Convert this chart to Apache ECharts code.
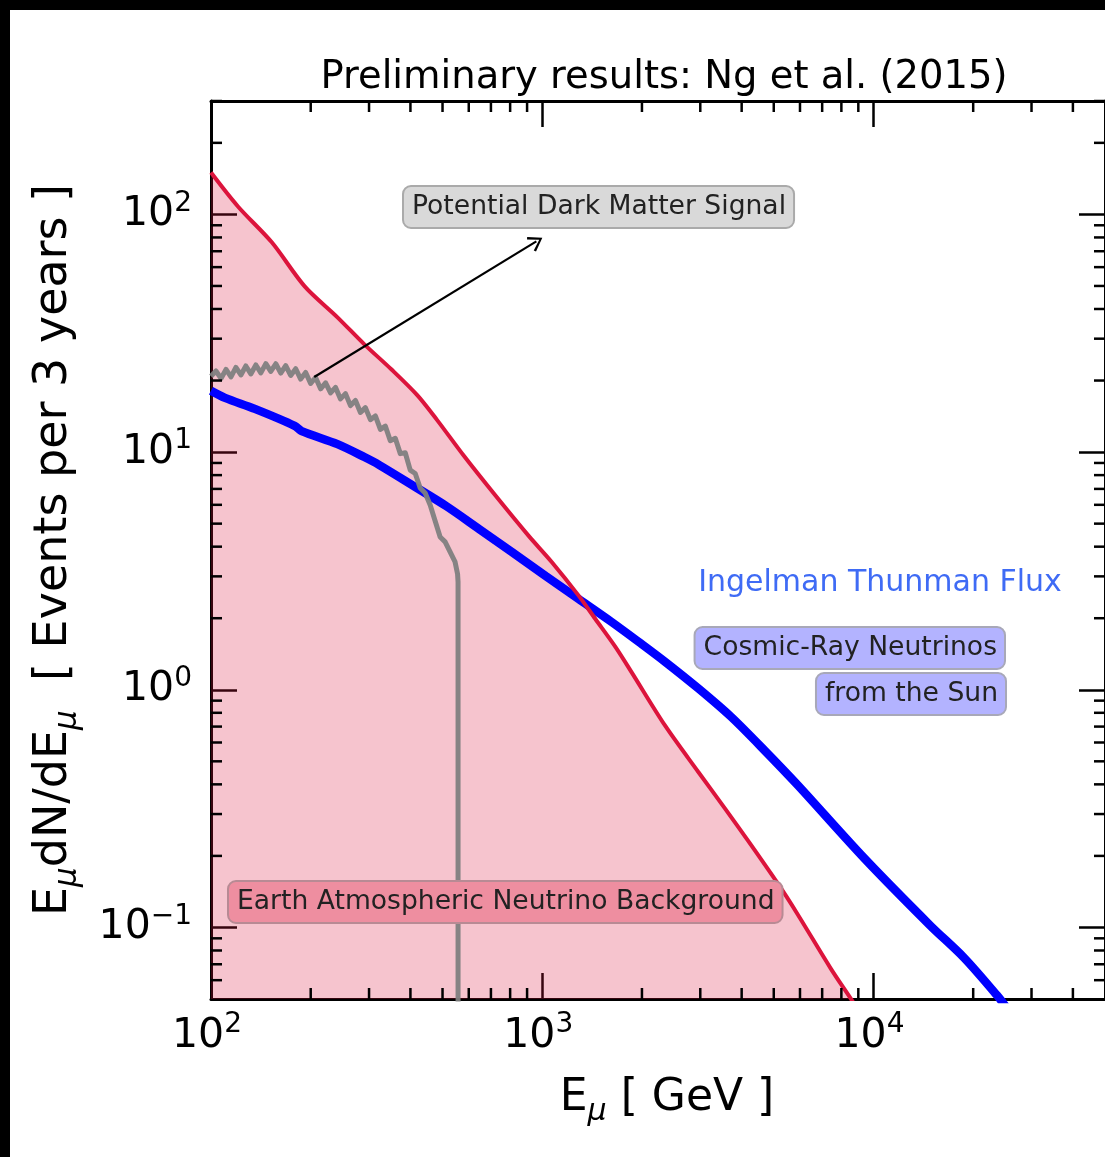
<!DOCTYPE html>
<html><head><meta charset="utf-8">
<script src="https://cdn.jsdelivr.net/npm/echarts@6/dist/echarts.min.js"></script>
<style>
html,body{margin:0;padding:0;background:#000;width:1105px;height:1157px;overflow:hidden}
#chart{position:absolute;left:10px;top:10px;width:1095px;height:1147px;background:#fff}
</style></head><body><div id="chart"></div>
<script>
// ---- data (E_mu in GeV, events per 3 years) ----
const energyBackground = [100, 120.6, 152.6, 191.8, 240.9, 290.4, 350.2, 419.4, 481.7, 580.7, 724.5, 910, 1068, 1288, 1445, 1663, 1858, 2350, 2956, 3564, 4180, 5143, 5907, 7425, 8530, 9400];
const eventsBackground = [150, 108, 76.3, 49.8, 36.9, 28.4, 22.3, 17.36, 13.63, 9.62, 6.53, 4.44, 3.45, 2.49, 1.99, 1.516, 1.19, 0.706, 0.452, 0.3162, 0.232, 0.1531, 0.1134, 0.0673, 0.0503, 0.041];

const energyThunman = [100, 110.2, 135.6, 178.9, 187.8, 240.9, 290.4, 322.3, 405, 512.6, 644.3, 809.7, 1024, 1288, 1618, 1991, 2350, 2956, 3715, 4700, 5907, 9398, 14830, 18780, 23600, 25500];
const eventsThunman = [18.1, 16.9, 15.2, 12.9, 12.25, 10.8, 9.53, 8.82, 7.265, 5.93, 4.75, 3.80, 3.01, 2.41, 1.931, 1.561, 1.311, 1.0146, 0.770, 0.5543, 0.397, 0.195, 0.102, 0.0745, 0.0518, 0.045];

const energyDM = [100, 103.5, 107.2, 111.0, 114.9, 118.9, 123.1, 127.4, 131.9, 136.6, 141.4, 146.4, 151.5, 156.9, 162.4, 168.1, 174.0, 180.2, 186.5, 193.1, 199.9, 206.9, 214.2, 221.8, 229.6, 237.7, 246.0, 254.7, 263.7, 273.0, 282.6, 292.5, 302.8, 313.5, 324.6, 336.0, 347.8, 360.1, 372.8, 385.9, 399.5, 413.6, 428.1, 443.2, 458.9, 475.0, 491.8, 509.1, 527.0, 545.6, 555.1, 557.0, 557.0];
const eventsDM = [20.86, 21.94, 20.41, 22.26, 20.71, 22.70, 21.11, 23.03, 21.32, 23.26, 21.53, 23.55, 21.84, 23.53, 21.49, 23.12, 21.01, 22.42, 20.29, 21.63, 19.44, 20.60, 18.46, 19.57, 17.74, 18.71, 16.74, 17.62, 15.69, 16.49, 14.67, 15.38, 13.69, 14.20, 12.46, 12.86, 11.16, 11.43, 9.85, 9.93, 8.40, 8.13, 7.06, 6.73, 5.99, 5.13, 4.39, 4.19, 3.80, 3.45, 3.07, 2.84, 0.04];

const arrowTail = [205, 20.7];
const arrowHead = [960, 77];

const xRange = [100, 50000];
const yRange = [0.05, 300];
const xMinorTicks = [200,300,400,500,600,700,800,900,2000,3000,4000,5000,6000,7000,8000,9000,20000,30000,40000];
const yMinorTicks = [0.06,0.07,0.08,0.09,0.2,0.3,0.4,0.5,0.6,0.7,0.8,0.9,2,3,4,5,6,7,8,9,20,30,40,50,60,70,80,90,200,300];

const titleText = 'Preliminary results: Ng et al. (2015)';
const dmLabel = 'Potential Dark Matter Signal';
const fluxLabel = 'Ingelman Thunman Flux';
const cosmicLabel1 = 'Cosmic-Ray Neutrinos';
const cosmicLabel2 = 'from the Sun';
const bgLabel = 'Earth Atmospheric Neutrino Background';

// ---- chart ----
const FONT = 'DejaVu Sans';
const pair = (xs, ys) => xs.map((x, i) => [x, ys[i]]);
function powLabel(v) {
  const e = Math.round(Math.log10(v));
  if (Math.abs(Math.pow(10, e) - v) / v > 1e-6) return '';
  return '{b|10}{s|' + (e < 0 ? '\u2212' + (-e) : e) + '}';
}
const labelRich = {
  b: { fontFamily: FONT, fontSize: 41, lineHeight: 50, color: '#000' },
  s: { fontFamily: FONT, fontSize: 28, lineHeight: 18, verticalAlign: 'top', color: '#000' }
};
const xNameRich = {
  n: { fontFamily: FONT, fontSize: 44, lineHeight: 56, color: '#000' },
  u: { fontFamily: FONT, fontSize: 30, fontStyle: 'italic', lineHeight: 26, verticalAlign: 'bottom', color: '#000' }
};
const yNameRich = {
  n: { fontFamily: FONT, fontSize: 46, lineHeight: 58, color: '#000' },
  u: { fontFamily: FONT, fontSize: 31, fontStyle: 'italic', lineHeight: 27, verticalAlign: 'bottom', color: '#000' }
};
const axisLine = { show: true, onZero: false, lineStyle: { color: '#000', width: 3 } };
const majorTick = { show: true, inside: true, length: 26, lineStyle: { color: '#000', width: 2.5 } };

const chart = echarts.init(document.getElementById('chart'), null, { renderer: 'canvas' });

function minorX(params, api) {
  const cs = params.coordSys;
  const x = api.coord([api.value(0), 1])[0];
  const st = { stroke: '#000', lineWidth: 2.5 };
  return { type: 'group', children: [
    { type: 'line', shape: { x1: x, y1: cs.y + cs.height, x2: x, y2: cs.y + cs.height - 11 }, style: st },
    { type: 'line', shape: { x1: x, y1: cs.y, x2: x, y2: cs.y + 11 }, style: st }
  ]};
}
function minorY(params, api) {
  const cs = params.coordSys;
  const y = api.coord([1000, api.value(1)])[1];
  const st = { stroke: '#000', lineWidth: 2.5 };
  return { type: 'group', children: [
    { type: 'line', shape: { x1: cs.x, y1: y, x2: cs.x + 11, y2: y }, style: st },
    { type: 'line', shape: { x1: cs.x + cs.width, y1: y, x2: cs.x + cs.width - 11, y2: y }, style: st }
  ]};
}

const boxText = (text, x, y, align, bg, border) => ({
  type: 'text', x: x, y: y, z: 100,
  style: {
    text: text, fontFamily: FONT, fontSize: 26.6, lineHeight: 30, fill: '#222',
    align: align, verticalAlign: 'top',
    backgroundColor: bg, borderColor: border, borderWidth: 2, borderRadius: 7,
    padding: [5, 7, 5, 8]
  }
});

const option = {
  animation: false,
  backgroundColor: '#fff',
  grid: { left: 201, top: 91, bottom: 158, right: -3, containLabel: false },
  xAxis: [
    { type: 'log', min: xRange[0], max: xRange[1], position: 'bottom',
      axisLine: axisLine, axisTick: majorTick, splitLine: { show: false },
      axisLabel: { show: true, margin: 12, formatter: powLabel, rich: labelRich, showMaxLabel: false, padding: [0, 8, 0, 0] },
      name: '{n|E}{u|\u03bc}{n| [ GeV ]}', nameLocation: 'middle', nameGap: 72,
      nameTextStyle: { rich: xNameRich, padding: [0, 0, 0, 18] } },
    { type: 'log', min: xRange[0], max: xRange[1], position: 'top',
      axisLine: axisLine, axisTick: majorTick, splitLine: { show: false }, axisLabel: { show: false } }
  ],
  yAxis: [
    { type: 'log', min: yRange[0], max: yRange[1], position: 'left',
      axisLine: axisLine, axisTick: majorTick, splitLine: { show: false },
      axisLabel: { show: true, margin: 19, formatter: powLabel, rich: labelRich, showMinLabel: false, showMaxLabel: false },
      name: '{n|E}{u|\u03bc}{n|dN/dE}{u|\u03bc}{n|  [ Events per 3 years ]}', nameLocation: 'middle', nameGap: 128,
      nameTextStyle: { rich: yNameRich } },
    { type: 'log', min: yRange[0], max: yRange[1], position: 'right',
      axisLine: axisLine, axisTick: majorTick, splitLine: { show: false }, axisLabel: { show: false } }
  ],
  series: [
    { name: 'bgFill', type: 'line', data: pair(energyBackground, eventsBackground), showSymbol: false, smooth: 0.3,
      lineStyle: { width: 0, opacity: 0 }, areaStyle: { color: 'rgba(220,20,60,0.25)', opacity: 1, origin: 'start' },
      z: 1, silent: true, clip: true },
    { name: 'Ingelman Thunman', type: 'line', data: pair(energyThunman, eventsThunman), showSymbol: false, smooth: 0.3,
      lineStyle: { color: '#0000ff', width: 8.5 }, z: 2, silent: true, clip: true },
    { name: 'Background', type: 'line', data: pair(energyBackground, eventsBackground), showSymbol: false, smooth: 0.3,
      lineStyle: { color: '#dc143c', width: 4 }, z: 3, silent: true, clip: true },
    { name: 'Dark Matter', type: 'line', data: pair(energyDM, eventsDM), showSymbol: false,
      lineStyle: { color: 'rgba(128,128,128,0.95)', width: 5, join: 'round' }, z: 4, silent: true, clip: true,
      markLine: { silent: true, animation: false,
        symbol: ['none', 'path://M5,0 L10,9 L8.8,10 L5,2.6 L1.2,10 L0,9 Z'], symbolSize: [17, 14],
        label: { show: false }, lineStyle: { color: '#000', width: 2.2, type: 'solid' },
        emphasis: { disabled: true },
        data: [[{ coord: arrowTail }, { coord: arrowHead }]] } },
    { name: 'minorX', type: 'custom', renderItem: minorX, data: xMinorTicks.map(v => [v, 1]), z: 10, silent: true },
    { name: 'minorY', type: 'custom', renderItem: minorY, data: yMinorTicks.map(v => [1000, v]), z: 10, silent: true }
  ],
  graphic: [
    { type: 'text', x: 654, y: 68, z: 100,
      style: { text: titleText, fontFamily: FONT, fontSize: 38.5, fill: '#000', align: 'center', verticalAlign: 'middle' } },
    boxText(dmLabel, 394, 177, 'left', '#d9d9d9', '#aaaaaa'),
    { type: 'text', x: 870, y: 573, z: 100,
      style: { text: fluxLabel, fontFamily: FONT, fontSize: 30, fill: '#3f6bf5', align: 'center', verticalAlign: 'middle' } },
    boxText(cosmicLabel1, 994, 618, 'right', '#b3b3ff', '#a8a8b8'),
    boxText(cosmicLabel2, 995, 664, 'right', '#b3b3ff', '#a8a8b8'),
    boxText(bgLabel, 219, 872, 'left', '#ee8ea0', '#b88a94')
  ]
};
chart.setOption(option);
</script></body></html>
